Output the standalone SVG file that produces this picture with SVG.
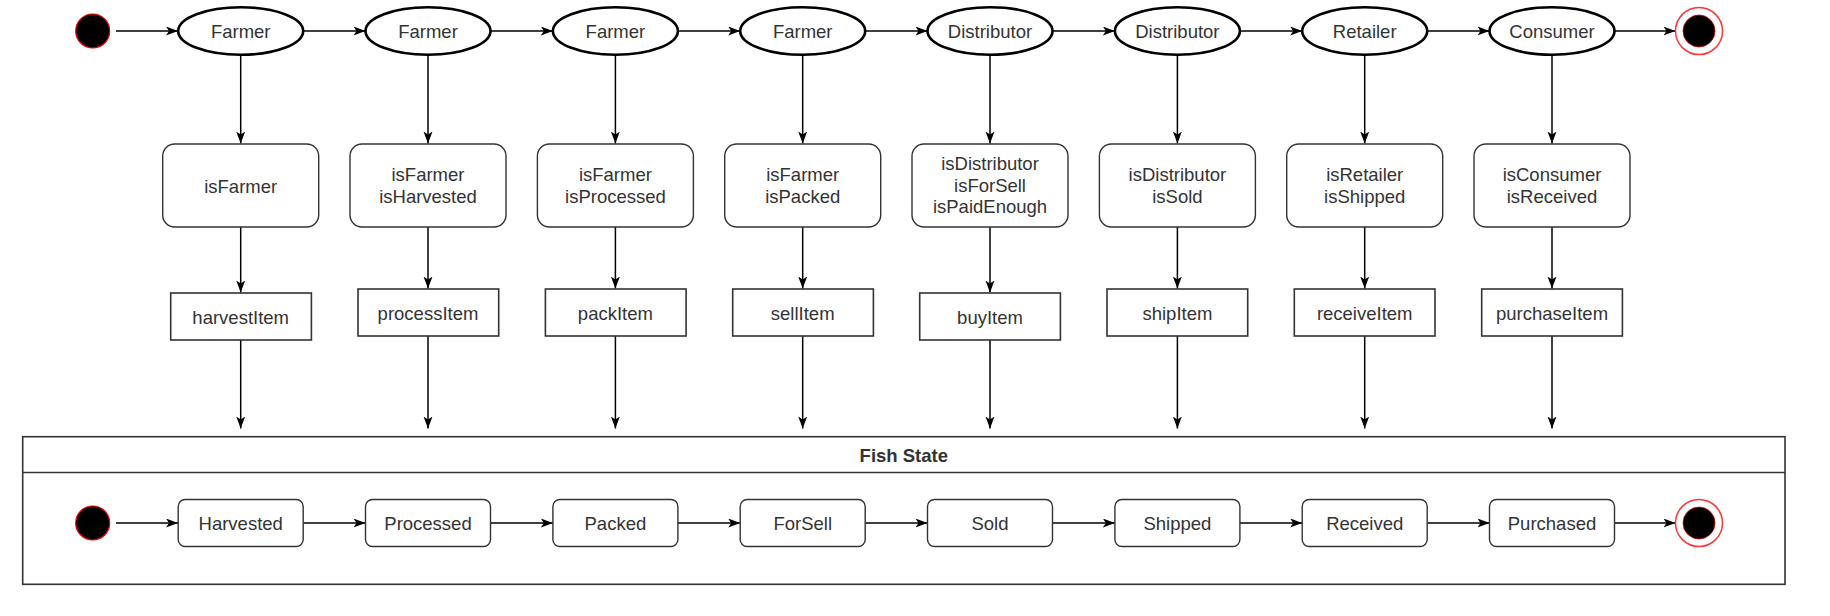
<svg xmlns="http://www.w3.org/2000/svg" width="1830" height="616" viewBox="0 0 1830 616">
<defs>
<style>
text{font-family:"Liberation Sans",Arial,sans-serif;font-size:18.5px;fill:#333;text-anchor:middle;dominant-baseline:central}
.actor{fill:#fff;stroke:#000;stroke-width:2.6}
.cond{fill:#fff;stroke:#333;stroke-width:1.4}
.fn{fill:#fff;stroke:#333;stroke-width:1.6}
.st{fill:#fff;stroke:#333;stroke-width:1.4}
.edge{stroke:#000;stroke-width:1.5;fill:none;marker-end:url(#arr)}
.start{fill:#000;stroke:#e00;stroke-width:1.2}
.endo{fill:#fff;stroke:#f33;stroke-width:1.5}
.endi{fill:#000;stroke:#c00;stroke-width:0.8}
.title{font-weight:bold}
</style>
<marker id="arr" markerWidth="14" markerHeight="10" refX="12" refY="4.5" orient="auto" markerUnits="userSpaceOnUse">
<path d="M0,0 L12,4.5 L0,9 L3,4.5 Z" fill="#000"/>
</marker>
</defs>

<g id="connectors">
<!-- top row -->
<line class="edge" x1="116" y1="31" x2="178" y2="31"/>
<line class="edge" x1="303.2" y1="31" x2="365.5" y2="31"/>
<line class="edge" x1="490.5" y1="31" x2="552.9" y2="31"/>
<line class="edge" x1="677.9" y1="31" x2="740.2" y2="31"/>
<line class="edge" x1="865.2" y1="31" x2="927.5" y2="31"/>
<line class="edge" x1="1052.5" y1="31" x2="1114.9" y2="31"/>
<line class="edge" x1="1239.9" y1="31" x2="1302.2" y2="31"/>
<line class="edge" x1="1427.2" y1="31" x2="1489.5" y2="31"/>
<line class="edge" x1="1614.5" y1="31" x2="1675.5" y2="31"/>
<!-- actor to condition -->
<line class="edge" x1="240.7" y1="55" x2="240.7" y2="143.5"/>
<line class="edge" x1="428" y1="55" x2="428" y2="143.5"/>
<line class="edge" x1="615.4" y1="55" x2="615.4" y2="143.5"/>
<line class="edge" x1="802.7" y1="55" x2="802.7" y2="143.5"/>
<line class="edge" x1="990" y1="55" x2="990" y2="143.5"/>
<line class="edge" x1="1177.4" y1="55" x2="1177.4" y2="143.5"/>
<line class="edge" x1="1364.7" y1="55" x2="1364.7" y2="143.5"/>
<line class="edge" x1="1552" y1="55" x2="1552" y2="143.5"/>
<!-- condition to function -->
<line class="edge" x1="240.7" y1="227" x2="240.7" y2="292.5"/>
<line class="edge" x1="428" y1="227" x2="428" y2="288.5"/>
<line class="edge" x1="615.4" y1="227" x2="615.4" y2="288.5"/>
<line class="edge" x1="802.7" y1="227" x2="802.7" y2="288.5"/>
<line class="edge" x1="990" y1="227" x2="990" y2="292.5"/>
<line class="edge" x1="1177.4" y1="227" x2="1177.4" y2="288.5"/>
<line class="edge" x1="1364.7" y1="227" x2="1364.7" y2="288.5"/>
<line class="edge" x1="1552" y1="227" x2="1552" y2="288.5"/>
<!-- function to state -->
<line class="edge" x1="240.7" y1="340" x2="240.7" y2="428.5"/>
<line class="edge" x1="428" y1="336" x2="428" y2="428.5"/>
<line class="edge" x1="615.4" y1="336" x2="615.4" y2="428.5"/>
<line class="edge" x1="802.7" y1="336" x2="802.7" y2="428.5"/>
<line class="edge" x1="990" y1="340" x2="990" y2="428.5"/>
<line class="edge" x1="1177.4" y1="336" x2="1177.4" y2="428.5"/>
<line class="edge" x1="1364.7" y1="336" x2="1364.7" y2="428.5"/>
<line class="edge" x1="1552" y1="336" x2="1552" y2="428.5"/>
<!-- bottom row -->
<line class="edge" x1="116" y1="523" x2="178" y2="523"/>
<line class="edge" x1="303.2" y1="523" x2="365.5" y2="523"/>
<line class="edge" x1="490.5" y1="523" x2="552.9" y2="523"/>
<line class="edge" x1="677.9" y1="523" x2="740.2" y2="523"/>
<line class="edge" x1="865.2" y1="523" x2="927.5" y2="523"/>
<line class="edge" x1="1052.5" y1="523" x2="1114.9" y2="523"/>
<line class="edge" x1="1239.9" y1="523" x2="1302.2" y2="523"/>
<line class="edge" x1="1427.2" y1="523" x2="1489.5" y2="523"/>
<line class="edge" x1="1614.5" y1="523" x2="1675.5" y2="523"/>
</g>

<g id="start-top"><circle class="start" cx="92.7" cy="31" r="17"/></g>
<g id="end-top"><circle class="endo" cx="1699" cy="31" r="23.5"/><circle class="endi" cx="1699" cy="31" r="16"/></g>

<g id="actor-1"><ellipse class="actor" cx="240.7" cy="31" rx="62.5" ry="23.8"/><text x="240.7" y="31">Farmer</text></g>
<g id="actor-2"><ellipse class="actor" cx="428" cy="31" rx="62.5" ry="23.8"/><text x="428" y="31">Farmer</text></g>
<g id="actor-3"><ellipse class="actor" cx="615.4" cy="31" rx="62.5" ry="23.8"/><text x="615.4" y="31">Farmer</text></g>
<g id="actor-4"><ellipse class="actor" cx="802.7" cy="31" rx="62.5" ry="23.8"/><text x="802.7" y="31">Farmer</text></g>
<g id="actor-5"><ellipse class="actor" cx="990" cy="31" rx="62.5" ry="23.8"/><text x="990" y="31">Distributor</text></g>
<g id="actor-6"><ellipse class="actor" cx="1177.4" cy="31" rx="62.5" ry="23.8"/><text x="1177.4" y="31">Distributor</text></g>
<g id="actor-7"><ellipse class="actor" cx="1364.7" cy="31" rx="62.5" ry="23.8"/><text x="1364.7" y="31">Retailer</text></g>
<g id="actor-8"><ellipse class="actor" cx="1552" cy="31" rx="62.5" ry="23.8"/><text x="1552" y="31">Consumer</text></g>

<g id="cond-1"><rect class="cond" x="162.7" y="144" width="156" height="83" rx="12"/><text x="240.7" y="186">isFarmer</text></g>
<g id="cond-2"><rect class="cond" x="350" y="144" width="156" height="83" rx="12"/><text x="428" y="174.5">isFarmer</text><text x="428" y="196.5">isHarvested</text></g>
<g id="cond-3"><rect class="cond" x="537.4" y="144" width="156" height="83" rx="12"/><text x="615.4" y="174.5">isFarmer</text><text x="615.4" y="196.5">isProcessed</text></g>
<g id="cond-4"><rect class="cond" x="724.7" y="144" width="156" height="83" rx="12"/><text x="802.7" y="174.5">isFarmer</text><text x="802.7" y="196.5">isPacked</text></g>
<g id="cond-5"><rect class="cond" x="912" y="144" width="156" height="83" rx="12"/><text x="990" y="163.5">isDistributor</text><text x="990" y="185">isForSell</text><text x="990" y="206.7">isPaidEnough</text></g>
<g id="cond-6"><rect class="cond" x="1099.4" y="144" width="156" height="83" rx="12"/><text x="1177.4" y="174.5">isDistributor</text><text x="1177.4" y="196.5">isSold</text></g>
<g id="cond-7"><rect class="cond" x="1286.7" y="144" width="156" height="83" rx="12"/><text x="1364.7" y="174.5">isRetailer</text><text x="1364.7" y="196.5">isShipped</text></g>
<g id="cond-8"><rect class="cond" x="1474" y="144" width="156" height="83" rx="12"/><text x="1552" y="174.5">isConsumer</text><text x="1552" y="196.5">isReceived</text></g>

<g id="fn-1"><rect class="fn" x="170.7" y="293" width="140.7" height="47"/><text x="240.7" y="317">harvestItem</text></g>
<g id="fn-2"><rect class="fn" x="358" y="289" width="140.7" height="47"/><text x="428" y="313">processItem</text></g>
<g id="fn-3"><rect class="fn" x="545.4" y="289" width="140.7" height="47"/><text x="615.4" y="313">packItem</text></g>
<g id="fn-4"><rect class="fn" x="732.7" y="289" width="140.7" height="47"/><text x="802.7" y="313">sellItem</text></g>
<g id="fn-5"><rect class="fn" x="919.7" y="293" width="140.7" height="47"/><text x="990" y="317">buyItem</text></g>
<g id="fn-6"><rect class="fn" x="1107" y="289" width="140.7" height="47"/><text x="1177.4" y="313">shipItem</text></g>
<g id="fn-7"><rect class="fn" x="1294.3" y="289" width="140.7" height="47"/><text x="1364.7" y="313">receiveItem</text></g>
<g id="fn-8"><rect class="fn" x="1481.7" y="289" width="140.7" height="47"/><text x="1552" y="313">purchaseItem</text></g>

<g id="fish-state">
<rect x="22.7" y="436.7" width="1762.3" height="147.6" fill="none" stroke="#333" stroke-width="1.6"/>
<line x1="22.7" y1="472.5" x2="1785" y2="472.5" stroke="#333" stroke-width="1.6"/>
<text class="title" x="903.8" y="455">Fish State</text>
</g>

<g id="start-bottom"><circle class="start" cx="92.7" cy="523" r="17"/></g>
<g id="end-bottom"><circle class="endo" cx="1699" cy="523" r="23.5"/><circle class="endi" cx="1699" cy="523" r="16"/></g>

<g id="state-1"><rect class="st" x="178.2" y="499.5" width="125" height="47" rx="7"/><text x="240.7" y="523">Harvested</text></g>
<g id="state-2"><rect class="st" x="365.5" y="499.5" width="125" height="47" rx="7"/><text x="428" y="523">Processed</text></g>
<g id="state-3"><rect class="st" x="552.9" y="499.5" width="125" height="47" rx="7"/><text x="615.4" y="523">Packed</text></g>
<g id="state-4"><rect class="st" x="740.2" y="499.5" width="125" height="47" rx="7"/><text x="802.7" y="523">ForSell</text></g>
<g id="state-5"><rect class="st" x="927.5" y="499.5" width="125" height="47" rx="7"/><text x="990" y="523">Sold</text></g>
<g id="state-6"><rect class="st" x="1114.9" y="499.5" width="125" height="47" rx="7"/><text x="1177.4" y="523">Shipped</text></g>
<g id="state-7"><rect class="st" x="1302.2" y="499.5" width="125" height="47" rx="7"/><text x="1364.7" y="523">Received</text></g>
<g id="state-8"><rect class="st" x="1489.5" y="499.5" width="125" height="47" rx="7"/><text x="1552" y="523">Purchased</text></g>
</svg>
